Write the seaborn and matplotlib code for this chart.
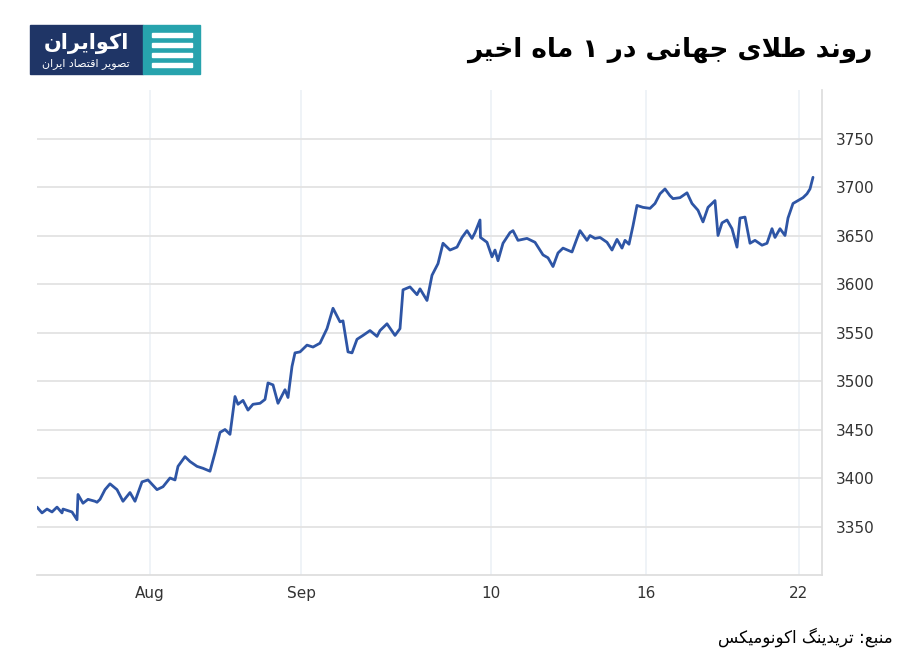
import matplotlib
matplotlib.use("Agg")
import matplotlib.pyplot as plt
import seaborn as sns
import pandas as pd
from matplotlib.patches import Rectangle, FancyBboxPatch

# ---- data (timeline position, price) ----
t = [37,42,47,52,57,62,63,72,77,78,83,88,95,97,100,105,110,117,123,130,135,142,148,157,163,170,175,178,185,190,197,203,210,215,220,225,230,235,238,243,248,253,260,265,268,273,278,285,288,292,295,300,307,313,320,327,333,340,343,348,352,357,363,370,377,380,387,395,400,403,410,417,420,427,432,438,443,450,457,462,467,472,475,480,480.5,487,492,495,498,503,510,513,518,527,535,543,548,553,558,563,572,577,580,587,590,595,600,607,612,617,622,625,629,633,637,643,650,655,660,665,670,673,680,687,692,698,703,708,715,718,722,727,732,737,740,745,750,755,762,767,772,775,780,785,788,793,798,803,807,810,813]
price = [3370,3364,3368,3365,3370,3364,3368,3365,3357,3383,3374,3378,3376,3375,3378,3388,3394,3388,3376,3385,3376,3396,3398,3388,3391,3400,3398,3412,3422,3417,3412,3410,3407,3426,3447,3450,3445,3484,3476,3480,3470,3476,3477,3481,3498,3496,3477,3491,3483,3515,3529,3530,3537,3535,3539,3554,3575,3561,3562,3530,3529,3543,3547,3552,3546,3552,3559,3547,3554,3594,3597,3589,3595,3583,3609,3621,3642,3635,3638,3648,3655,3647,3653,3666,3648,3643,3628,3635,3624,3642,3653,3655,3645,3647,3643,3630,3627,3618,3632,3637,3633,3647,3655,3645,3650,3647,3648,3643,3635,3646,3637,3645,3641,3660,3681,3679,3678,3683,3693,3698,3691,3688,3689,3694,3683,3676,3664,3679,3686,3650,3663,3666,3657,3638,3668,3669,3642,3645,3640,3642,3657,3648,3657,3650,3668,3683,3686,3689,3693,3698,3710]
tick_pos = [150, 301, 491, 646, 799]
tick_labels = ["Aug", "Sep", "10", "16", "22"]
y_ticks = [3350, 3400, 3450, 3500, 3550, 3600, 3650, 3700, 3750]
title_text = "روند طلای جهانی در ۱ ماه اخیر"
source_text = "منبع: تریدینگ اکونومیکس"
logo_text = "اکوایران"
logo_sub = "تصویر اقتصاد ایران"

# ---- minimal Persian shaping ----
FORMS = {
    'ا': ('\uFE8D', '\uFE8E', None, None), 'ب': ('\uFE8F', '\uFE90', '\uFE91', '\uFE92'),
    'ت': ('\uFE95', '\uFE96', '\uFE97', '\uFE98'), 'ج': ('\uFE9D', '\uFE9E', '\uFE9F', '\uFEA0'),
    'خ': ('\uFEA5', '\uFEA6', '\uFEA7', '\uFEA8'), 'د': ('\uFEA9', '\uFEAA', None, None),
    'ر': ('\uFEAD', '\uFEAE', None, None), 'س': ('\uFEB1', '\uFEB2', '\uFEB3', '\uFEB4'),
    'ص': ('\uFEB9', '\uFEBA', '\uFEBB', '\uFEBC'), 'ط': ('\uFEC1', '\uFEC2', '\uFEC3', '\uFEC4'),
    'ع': ('\uFEC9', '\uFECA', '\uFECB', '\uFECC'), 'ق': ('\uFED5', '\uFED6', '\uFED7', '\uFED8'),
    'ک': ('\uFB8E', '\uFB8F', '\uFB90', '\uFB91'), 'گ': ('\uFB92', '\uFB93', '\uFB94', '\uFB95'),
    'ل': ('\uFEDD', '\uFEDE', '\uFEDF', '\uFEE0'), 'م': ('\uFEE1', '\uFEE2', '\uFEE3', '\uFEE4'),
    'ن': ('\uFEE5', '\uFEE6', '\uFEE7', '\uFEE8'), 'ه': ('\uFEE9', '\uFEEA', '\uFEEB', '\uFEEC'),
    'و': ('\uFEED', '\uFEEE', None, None), 'ی': ('\uFBFC', '\uFBFD', '\uFBFE', '\uFBFF'),
}

def shape(s):
    chars = list(s)
    out = []
    i = 0
    while i < len(chars):
        c = chars[i]
        if c not in FORMS:
            out.append(c); i += 1; continue
        prev = chars[i-1] if i > 0 else None
        jp = prev in FORMS and FORMS[prev][2] is not None
        if c == 'ل' and i + 1 < len(chars) and chars[i+1] == 'ا':
            out.append('\uFEFC' if jp else '\uFEFB'); i += 2; continue
        nxt = chars[i+1] if i + 1 < len(chars) else None
        jn = FORMS[c][2] is not None and nxt in FORMS
        iso, fin, ini, med = FORMS[c]
        if jp and jn: out.append(med)
        elif jp: out.append(fin)
        elif jn: out.append(ini)
        else: out.append(iso)
        i += 1
    return ''.join(reversed(out))

sns.set_theme(style="white")
plt.rcParams['font.family'] = ['DejaVu Sans']

df = pd.DataFrame({"t": t, "price": price})
fig = plt.figure(figsize=(9.19, 6.69), dpi=100)
ax = fig.add_axes([37/919, 94/669, 785/919, 485/669])
sns.lineplot(data=df, x="t", y="price", ax=ax, color="#2e55a5", linewidth=2)
ax.set_xlim(37, 822)
ax.set_ylim(3300, 3800)
ax.set_xticks(tick_pos)
ax.set_xticklabels(tick_labels, fontsize=11, color="#333333")
ax.set_yticks(y_ticks)
ax.yaxis.tick_right()
ax.tick_params(axis='y', labelsize=11, colors="#333333", length=0, pad=10)
ax.tick_params(axis='x', length=0, pad=8)
ax.set_xlabel(""); ax.set_ylabel("")
ax.grid(axis='y', color="#e3e3e3", linewidth=1.3)
ax.grid(axis='x', color="#eef2f7", linewidth=1.3)
for s in ["top", "left"]:
    ax.spines[s].set_visible(False)
ax.spines["bottom"].set_color("#dddddd")
ax.spines["right"].set_color("#dddddd")

fig.text(872/919, 1 - 50/669, shape(title_text), ha="right", va="center", fontsize=19, fontweight="bold", color="black")
fig.text(893/919, 1 - 637/669, shape(source_text), ha="right", va="center", fontsize=12, color="black")

# logo
fig.patches.append(Rectangle((30/919, 1 - 74/669), 113/919, 49/669, transform=fig.transFigure, color="#1f3566", zorder=3))
fig.patches.append(Rectangle((143/919, 1 - 74/669), 57/919, 49/669, transform=fig.transFigure, color="#27a3ad", zorder=3))
for k in range(4):
    y0 = 1 - (34 + k * 10) / 669
    fig.patches.append(Rectangle((152/919, y0 - 3/669), 40/919, 4/669, transform=fig.transFigure, color="white", zorder=4))
fig.text(86/919, 1 - 44/669, shape(logo_text), ha="center", va="center", fontsize=15, fontweight="bold", color="white", zorder=5)
fig.text(86/919, 1 - 64/669, shape(logo_sub), ha="center", va="center", fontsize=8, color="white", zorder=5)

fig.savefig("out.png", dpi=100, facecolor="white")
